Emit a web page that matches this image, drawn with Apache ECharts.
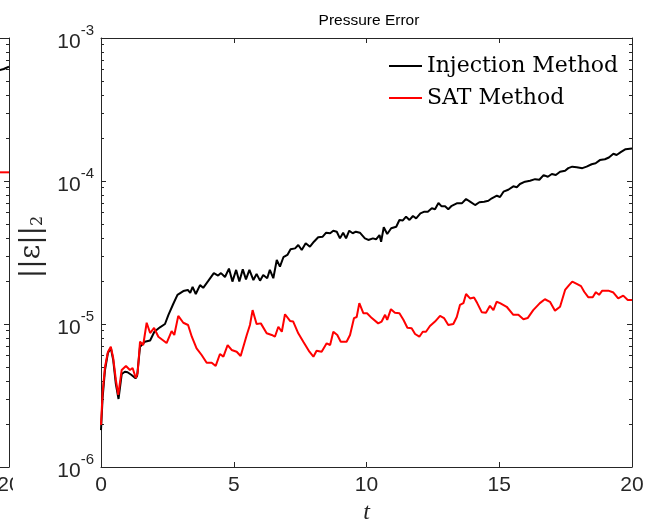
<!DOCTYPE html>
<html>
<head>
<meta charset="utf-8">
<script src="https://cdn.jsdelivr.net/npm/echarts@6/dist/echarts.min.js"></script>
<style>
  html, body { margin: 0; padding: 0; background: #fff; }
  #chart { width: 657px; height: 523px; }
</style>
</head>
<body>
<div id="chart"></div>
<script>
// ||eps||_2 of the pressure error against time t, pairs of [t, error]
const injectionError = [
  [0, 1.81e-6], [0.06, 3.04e-6], [0.15, 4.77e-6], [0.26, 6.27e-6], [0.37, 6.79e-6], [0.46, 5.60e-6],
  [0.56, 3.80e-6], [0.66, 2.99e-6], [0.78, 4.47e-6], [0.90, 4.64e-6], [1.0, 4.6e-6], [1.15, 4.40e-6],
  [1.30, 4.17e-6], [1.36, 4.33e-6], [1.47, 6.94e-6], [1.65, 7.52e-6], [1.85, 7.67e-6], [2.01, 8.83e-6],
  [2.22, 9.48e-6], [2.41, 1.0e-5], [2.54, 1.16e-5], [2.72, 1.38e-5], [2.88, 1.60e-5], [3.10, 1.70e-5],
  [3.27, 1.73e-5], [3.36, 1.65e-5], [3.45, 1.82e-5], [3.57, 1.62e-5], [3.73, 1.87e-5], [3.85, 1.79e-5],
  [4.04, 2.00e-5], [4.25, 2.27e-5], [4.41, 2.18e-5], [4.52, 2.27e-5], [4.67, 2.13e-5], [4.82, 2.44e-5],
  [4.95, 1.98e-5], [5.09, 2.39e-5], [5.21, 1.98e-5], [5.34, 2.41e-5], [5.46, 2.05e-5], [5.59, 2.39e-5],
  [5.74, 2.03e-5], [5.86, 2.24e-5], [5.99, 2.01e-5], [6.11, 2.20e-5], [6.26, 2.09e-5], [6.36, 2.39e-5],
  [6.49, 2.09e-5], [6.62, 2.80e-5], [6.74, 2.52e-5], [6.87, 2.93e-5], [7.02, 3.04e-5], [7.14, 3.33e-5],
  [7.31, 3.38e-5], [7.43, 3.57e-5], [7.56, 3.29e-5], [7.71, 3.67e-5], [7.87, 3.47e-5], [8.02, 3.76e-5],
  [8.18, 4.04e-5], [8.35, 4.08e-5], [8.48, 4.35e-5], [8.63, 4.31e-5], [8.75, 4.49e-5], [8.88, 4.42e-5],
  [9.0, 3.97e-5], [9.12, 4.35e-5], [9.23, 3.97e-5], [9.35, 4.49e-5], [9.48, 4.31e-5], [9.60, 4.42e-5],
  [9.75, 4.35e-5], [9.94, 3.97e-5], [10.07, 3.87e-5], [10.24, 3.97e-5], [10.36, 3.91e-5], [10.49, 4.19e-5],
  [10.55, 3.76e-5], [10.65, 4.75e-5], [10.78, 4.26e-5], [10.93, 4.67e-5], [11.12, 4.79e-5], [11.24, 5.34e-5],
  [11.37, 5.30e-5], [11.49, 5.63e-5], [11.62, 5.34e-5], [11.75, 5.69e-5], [11.87, 5.48e-5], [12.03, 5.94e-5],
  [12.18, 6.10e-5], [12.31, 6.10e-5], [12.46, 6.44e-5], [12.58, 6.35e-5], [12.71, 7.02e-5], [12.83, 6.65e-5],
  [12.96, 6.65e-5], [13.08, 6.35e-5], [13.21, 6.71e-5], [13.40, 6.98e-5], [13.59, 6.98e-5], [13.75, 7.48e-5],
  [13.90, 7.17e-5], [14.09, 6.79e-5], [14.25, 7.10e-5], [14.43, 7.17e-5], [14.59, 7.28e-5], [14.72, 7.57e-5],
  [14.91, 7.89e-5], [15.03, 7.73e-5], [15.16, 8.42e-5], [15.34, 8.69e-5], [15.53, 9.18e-5], [15.66, 9.04e-5],
  [15.78, 9.53e-5], [15.97, 9.89e-5], [16.16, 1.005e-4], [16.35, 1.03e-4], [16.51, 1.02e-4], [16.67, 1.10e-4],
  [16.83, 1.07e-4], [16.98, 1.12e-4], [17.13, 1.10e-4], [17.29, 1.16e-4], [17.48, 1.18e-4], [17.60, 1.23e-4],
  [17.75, 1.26e-4], [17.92, 1.25e-4], [18.13, 1.23e-4], [18.29, 1.26e-4], [18.48, 1.31e-4], [18.63, 1.33e-4],
  [18.79, 1.40e-4], [18.98, 1.42e-4], [19.13, 1.46e-4], [19.30, 1.55e-4], [19.42, 1.52e-4], [19.59, 1.60e-4],
  [19.76, 1.67e-4], [20.0, 1.69e-4]
];

const satError = [
  [0, 1.97e-6], [0.06, 3.3e-6], [0.15, 5.0e-6], [0.26, 6.37e-6], [0.37, 6.94e-6], [0.46, 5.78e-6],
  [0.56, 4.06e-6], [0.65, 3.19e-6], [0.78, 4.77e-6], [0.94, 5.09e-6], [1.09, 4.77e-6], [1.19, 4.92e-6],
  [1.31, 4.19e-6], [1.38, 4.54e-6], [1.47, 7.52e-6], [1.59, 7.13e-6], [1.72, 1.02e-5], [1.85, 8.65e-6],
  [2.0, 9.38e-6], [2.16, 8.15e-6], [2.47, 7.36e-6], [2.66, 8.93e-6], [2.76, 8.38e-6], [2.91, 1.14e-5],
  [3.10, 1.02e-5], [3.28, 9.84e-6], [3.42, 8.15e-6], [3.60, 6.76e-6], [3.79, 6.07e-6], [3.98, 5.36e-6],
  [4.17, 5.36e-6], [4.32, 5.09e-6], [4.48, 6.17e-6], [4.61, 5.91e-6], [4.77, 7.13e-6], [4.92, 6.58e-6],
  [5.11, 6.40e-6], [5.26, 5.97e-6], [5.49, 8.38e-6], [5.61, 9.84e-6], [5.71, 1.25e-5], [5.86, 1.0e-5],
  [6.02, 1.01e-5], [6.24, 8.61e-6], [6.43, 8.38e-6], [6.55, 8.15e-6], [6.68, 9.57e-6], [6.81, 8.83e-6],
  [6.93, 1.17e-5], [7.12, 1.05e-5], [7.24, 1.04e-5], [7.43, 8.61e-6], [7.62, 7.52e-6], [7.85, 6.40e-6],
  [8.00, 5.91e-6], [8.12, 6.51e-6], [8.31, 6.40e-6], [8.50, 7.33e-6], [8.63, 7.13e-6], [8.75, 8.83e-6],
  [8.90, 8.38e-6], [9.03, 7.52e-6], [9.25, 7.52e-6], [9.38, 8.38e-6], [9.53, 1.10e-5], [9.63, 1.12e-5],
  [9.73, 1.40e-5], [9.88, 1.19e-5], [10.02, 1.19e-5], [10.20, 1.10e-5], [10.44, 1.01e-5], [10.57, 1.04e-5],
  [10.70, 1.16e-5], [10.78, 1.07e-5], [10.92, 1.27e-5], [11.07, 1.20e-5], [11.24, 1.19e-5], [11.39, 1.07e-5],
  [11.54, 9.42e-6], [11.70, 9.33e-6], [11.83, 8.51e-6], [11.99, 8.15e-6], [12.12, 8.83e-6], [12.24, 8.83e-6],
  [12.39, 9.68e-6], [12.58, 1.04e-5], [12.77, 1.14e-5], [12.92, 1.10e-5], [13.08, 9.84e-6], [13.27, 1.0e-5],
  [13.40, 1.12e-5], [13.52, 1.36e-5], [13.65, 1.40e-5], [13.75, 1.62e-5], [13.90, 1.51e-5], [14.05, 1.53e-5],
  [14.17, 1.40e-5], [14.34, 1.21e-5], [14.50, 1.20e-5], [14.65, 1.34e-5], [14.78, 1.25e-5], [14.90, 1.43e-5],
  [15.03, 1.40e-5], [15.28, 1.32e-5], [15.53, 1.16e-5], [15.72, 1.16e-5], [15.91, 1.08e-5], [16.07, 1.10e-5],
  [16.28, 1.25e-5], [16.53, 1.40e-5], [16.72, 1.49e-5], [16.91, 1.43e-5], [17.10, 1.24e-5], [17.29, 1.32e-5],
  [17.48, 1.73e-5], [17.63, 1.87e-5], [17.75, 1.98e-5], [17.92, 1.91e-5], [18.08, 1.84e-5], [18.20, 1.68e-5],
  [18.35, 1.54e-5], [18.52, 1.54e-5], [18.64, 1.67e-5], [18.76, 1.60e-5], [18.88, 1.71e-5], [19.11, 1.71e-5],
  [19.30, 1.66e-5], [19.48, 1.51e-5], [19.67, 1.58e-5], [19.84, 1.47e-5], [20.0, 1.47e-5]
];

// tail end of the neighbouring panel (only its last few time units show)
const neighbourInjection = [[19.6, 5.93e-4], [19.8, 6.07e-4], [20.0, 6.30e-4]];
const neighbourSat = [[19.6, 1.15e-4], [20.0, 1.15e-4]];
const neighbourTimeRange = [19.66, 20];
const neighbourTimeLabels = [20];

const seriesNames = ['Injection Method', 'SAT Method'];
const timeTicks = [0, 5, 10, 15, 20];
const errorRange = [1e-6, 1e-3];
const minorMultipliers = [2, 3, 4, 5, 6, 7, 8, 9];
const minorDecades = [1e-6, 1e-5, 1e-4];

const AXIS_COLOR = '#262626';
const SANS = '"Liberation Sans", Arial, Helvetica, sans-serif';
const SERIF = '"DejaVu Serif", "Liberation Serif", serif';

const minorTickValues = [];
minorDecades.forEach(d => minorMultipliers.forEach(k => minorTickValues.push(k * d)));

function powerLabel(v) {
  const e = Math.round(Math.log10(v));
  return '{b|10}{s|' + e + '}';
}

function logAxis(gridIndex, position, opts) {
  return Object.assign({
    type: 'log', logBase: 10, gridIndex: gridIndex, position: position,
    min: errorRange[0], max: errorRange[1],
    axisLine: { show: true, lineStyle: { color: AXIS_COLOR, width: 1 } },
    axisTick: { show: true, inside: true, length: 5, lineStyle: { color: AXIS_COLOR } },
    axisLabel: { show: false },
    splitLine: { show: false },
    minorTick: { show: false }
  }, opts || {});
}

function minorLogAxis(gridIndex, position) {
  return logAxis(gridIndex, position, {
    axisLine: { show: false },
    axisTick: { show: true, inside: true, length: 3, customValues: minorTickValues,
                lineStyle: { color: AXIS_COLOR } }
  });
}

const tickLabelStyle = { show: true, margin: 8, color: AXIS_COLOR, fontFamily: SANS, fontSize: 21 };

function timeAxis(gridIndex, position, withLabels) {
  return {
    type: 'value', gridIndex: gridIndex, position: position,
    min: timeTicks[0], max: timeTicks[timeTicks.length - 1], interval: 5,
    axisLine: { show: true, lineStyle: { color: AXIS_COLOR, width: 1 } },
    axisTick: { show: true, inside: true, length: 5, lineStyle: { color: AXIS_COLOR } },
    axisLabel: withLabels ? tickLabelStyle : { show: false },
    splitLine: { show: false }
  };
}

function neighbourTimeAxis(position, withLabels) {
  return {
    type: 'value', gridIndex: 1, position: position,
    min: neighbourTimeRange[0], max: neighbourTimeRange[1],
    axisLine: { show: true, lineStyle: { color: AXIS_COLOR, width: 1 } },
    axisTick: { show: false },
    axisLabel: withLabels ? Object.assign({ customValues: neighbourTimeLabels }, tickLabelStyle) : { show: false },
    splitLine: { show: false }
  };
}

const mainX = timeAxis(0, 'bottom', true);
mainX.name = 't';
mainX.nameLocation = 'middle';
mainX.nameGap = 32;
mainX.nameTextStyle = { fontFamily: '"Liberation Serif", serif', fontStyle: 'italic', fontSize: 24, color: AXIS_COLOR };

const option = {
  animation: false,
  backgroundColor: '#fff',
  title: {
    text: 'Pressure Error', left: 364, top: 8, textAlign: 'center',
    textStyle: { fontFamily: SANS, fontSize: 15.5, fontWeight: 'normal', color: '#000' }
  },
  legend: {
    data: seriesNames, orient: 'vertical', left: 389, top: 55, padding: 0,
    icon: 'rect', itemWidth: 33, itemHeight: 2, itemGap: 10,
    textStyle: { fontFamily: SERIF, fontSize: 22, lineHeight: 22, color: '#000' }
  },
  grid: [
    { left: 101, right: 25, top: 38, bottom: 56, outerBoundsMode: 'none', containLabel: false },
    { left: 0, width: 9, top: 38, bottom: 56, outerBoundsMode: 'none', containLabel: false }
  ],
  xAxis: [
    mainX,
    timeAxis(0, 'top', false),
    neighbourTimeAxis('bottom', true),
    neighbourTimeAxis('top', false)
  ],
  yAxis: [
    logAxis(0, 'left', {
      axisLabel: {
        show: true, margin: 7, formatter: powerLabel,
        rich: {
          b: { fontFamily: SANS, fontSize: 21, color: AXIS_COLOR, verticalAlign: 'bottom' },
          s: { fontFamily: SANS, fontSize: 15, color: AXIS_COLOR, verticalAlign: 'bottom', padding: [0, 0, 15, 0] }
        }
      }
    }),
    minorLogAxis(0, 'left'),
    logAxis(0, 'right'),
    minorLogAxis(0, 'right'),
    logAxis(1, 'right'),
    minorLogAxis(1, 'right')
  ],
  series: [
    { name: seriesNames[0], type: 'line', xAxisIndex: 0, yAxisIndex: 0, data: injectionError,
      showSymbol: false, symbol: 'none', color: '#000', lineStyle: { color: '#000', width: 2 } },
    { name: seriesNames[1], type: 'line', xAxisIndex: 0, yAxisIndex: 0, data: satError,
      showSymbol: false, symbol: 'none', color: '#ff0000', lineStyle: { color: '#ff0000', width: 2 } },
    { name: seriesNames[0], type: 'line', xAxisIndex: 2, yAxisIndex: 4, data: neighbourInjection,
      showSymbol: false, symbol: 'none', color: '#000', lineStyle: { color: '#000', width: 2 } },
    { name: seriesNames[1], type: 'line', xAxisIndex: 2, yAxisIndex: 4, data: neighbourSat,
      showSymbol: false, symbol: 'none', color: '#ff0000', lineStyle: { color: '#ff0000', width: 2 } }
  ],
  graphic: [
    // the neighbouring panel's tick label is cut by this panel's figure area
    { type: 'rect', left: 13, top: 472, shape: { width: 40, height: 26 }, style: { fill: '#fff' }, z: 100 },
    {
      type: 'text', x: 32, y: 247, rotation: Math.PI / 2,
      style: {
        text: '{a|||ε||}{s|2}', align: 'center', verticalAlign: 'middle',
        rich: {
          a: { fontFamily: SERIF, fontSize: 28, fill: AXIS_COLOR, verticalAlign: 'bottom' },
          s: { fontFamily: SERIF, fontSize: 16, fill: AXIS_COLOR, verticalAlign: 'bottom', padding: [12, 0, 0, 0] }
        }
      }
    }
  ]
};

const chart = echarts.init(document.getElementById('chart'), null, { renderer: 'canvas' });
chart.setOption(option);
</script>
</body>
</html>
